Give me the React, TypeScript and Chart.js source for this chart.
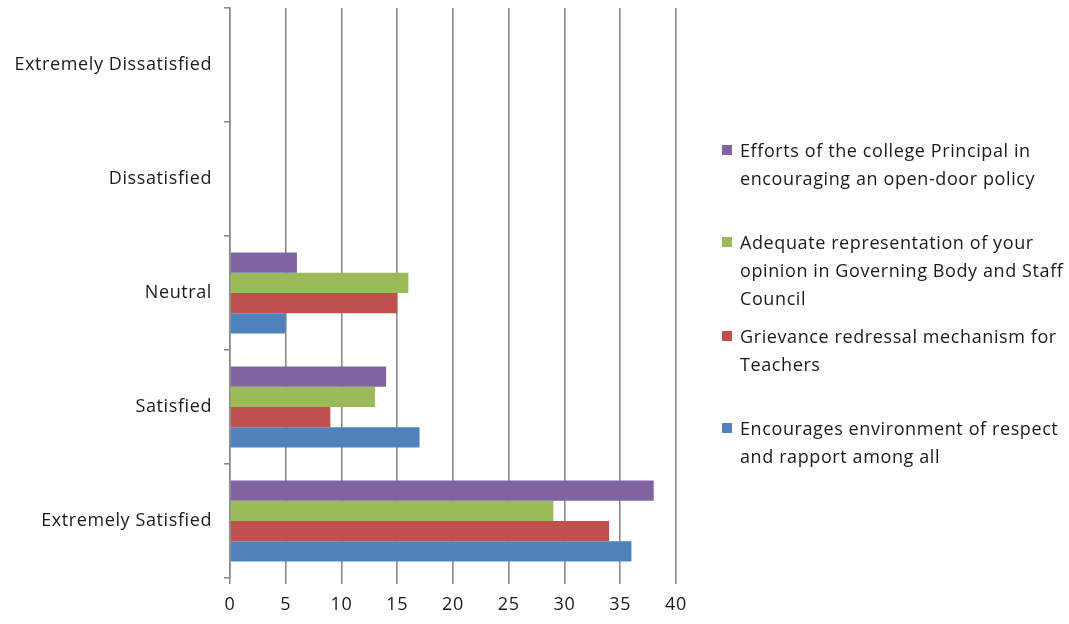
import React, { useEffect, useRef } from "react";
import { Chart, registerables } from "chart.js";

Chart.register(...registerables);

const categories = ["Extremely Dissatisfied", "Dissatisfied", "Neutral", "Satisfied", "Extremely Satisfied"];
const seriesNames = [
  "Efforts of the college Principal in encouraging an open-door policy",
  "Adequate representation of your opinion in Governing Body and Staff Council",
  "Grievance redressal mechanism for Teachers",
  "Encourages environment of respect and rapport among all",
];
const legendLines = [
  ["Efforts of the college Principal in", "encouraging an open-door policy"],
  ["Adequate representation of your", "opinion in Governing Body and Staff", "Council"],
  ["Grievance redressal mechanism for", "Teachers"],
  ["Encourages environment of respect", "and rapport among all"],
];
const effortsValues = [0, 0, 6, 14, 38];
const representationValues = [0, 0, 16, 13, 29];
const grievanceValues = [0, 0, 15, 9, 34];
const respectValues = [0, 0, 5, 17, 36];
const xTicks = [0, 5, 10, 15, 20, 25, 30, 35, 40];
const colors = ["#8064a2", "#9bbb59", "#c0504d", "#4f81bd"];
const legendTops = [136, 228, 322, 414];

const FONT = "'Open Sans', Lato, sans-serif";
const FSIZE = 18;
const SPACING = "0.6px";

const spacingPlugin = {
  id: "spacing",
  beforeDraw(chart: any) {
    chart.ctx.letterSpacing = SPACING;
  },
};

export default function App() {
  const ref = useRef<HTMLCanvasElement | null>(null);
  useEffect(() => {
    document.body.style.margin = "0";
    const values = [effortsValues, representationValues, grievanceValues, respectValues];
    const chart = new Chart(ref.current!, {
      type: "bar",
      data: {
        labels: categories,
        datasets: seriesNames.map((n, i) => ({
          label: n,
          data: values[i],
          backgroundColor: colors[i],
          borderWidth: 0,
          categoryPercentage: 0.71,
          barPercentage: 1,
        })),
      },
      plugins: [spacingPlugin],
      options: {
        indexAxis: "y",
        animation: false,
        responsive: false,
        maintainAspectRatio: false,
        layout: { padding: { left: 0, right: 393, top: 8, bottom: 0 } },
        plugins: { legend: { display: false }, tooltip: { enabled: false } },
        scales: {
          x: {
            min: 0,
            max: 40,
            afterBuildTicks: (s: any) => {
              s.ticks = xTicks.map((v) => ({ value: v }));
            },
            afterFit: (s: any) => {
              s.height = 46;
              s.paddingLeft = 0;
              s.paddingRight = 0;
            },
            border: { display: false },
            grid: { color: "#8a8a8a", lineWidth: 1.6, tickLength: 6, drawTicks: true },
            ticks: { color: "#1a1a1a", font: { family: FONT, size: FSIZE }, padding: 10 },
          },
          y: {
            afterFit: (s: any) => {
              s.width = 230;
              s.paddingTop = 0;
              s.paddingBottom = 0;
            },
            border: { display: true, color: "#8a8a8a", width: 1.6 },
            grid: { offset: true, drawOnChartArea: false, drawTicks: true, tickLength: 6, color: "#8a8a8a", lineWidth: 1.6 },
            ticks: { color: "#1a1a1a", font: { family: FONT, size: FSIZE }, padding: 12 },
          },
        },
      },
    });
    return () => chart.destroy();
  }, []);
  return (
    <div style={{ position: "absolute", left: 0, top: 0, width: 1069, height: 624, background: "#fff" }}>
      <canvas ref={ref} width={1069} height={624} style={{ position: "absolute", left: 0, top: 0 }} />
      {legendLines.map((lines, i) => (
        <div
          key={i}
          style={{
            position: "absolute",
            left: 722,
            top: legendTops[i],
            fontFamily: FONT,
            fontSize: FSIZE,
            letterSpacing: SPACING,
            lineHeight: "28px",
            color: "#1a1a1a",
            whiteSpace: "nowrap",
          }}
        >
          <span
            style={{
              position: "absolute",
              left: 0,
              top: 9,
              width: 10,
              height: 10,
              background: colors[i],
            }}
          />
          <div style={{ marginLeft: 18 }}>
            {lines.map((l, j) => (
              <div key={j}>{l}</div>
            ))}
          </div>
        </div>
      ))}
    </div>
  );
}
